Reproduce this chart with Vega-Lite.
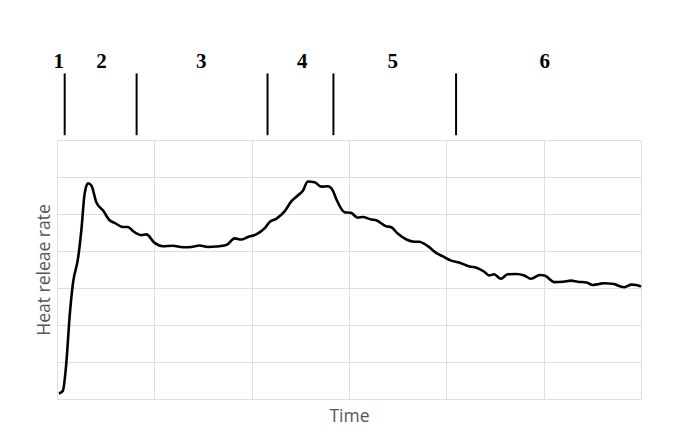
{
  "$schema": "https://vega.github.io/schema/vega-lite/v6.json",
  "autosize": {"type": "none"},
  "width": 584,
  "height": 259,
  "padding": {"left": 57, "top": 140, "right": 33, "bottom": 35},
  "background": "white",
  "config": {
    "view": {"stroke": null},
    "axis": {"gridColor": "#dedede", "gridWidth": 1, "domain": false, "ticks": false, "labels": false,
             "titleFont": "Open Sans", "titleFontWeight": "normal", "titleColor": "#555555"}
  },
  "datasets": {
    "curve": [
      {"t": 0.02, "hrr": 0.15}, {"t": 0.06, "hrr": 0.22}, {"t": 0.096, "hrr": 0.98}, {"t": 0.13, "hrr": 2.24},
      {"t": 0.164, "hrr": 3.13}, {"t": 0.216, "hrr": 3.8}, {"t": 0.25, "hrr": 4.56}, {"t": 0.284, "hrr": 5.55},
      {"t": 0.318, "hrr": 5.83}, {"t": 0.353, "hrr": 5.77}, {"t": 0.404, "hrr": 5.32}, {"t": 0.472, "hrr": 5.1},
      {"t": 0.541, "hrr": 4.83}, {"t": 0.592, "hrr": 4.76}, {"t": 0.678, "hrr": 4.65}, {"t": 0.729, "hrr": 4.65},
      {"t": 0.78, "hrr": 4.54}, {"t": 0.866, "hrr": 4.43}, {"t": 0.918, "hrr": 4.45}, {"t": 1.003, "hrr": 4.22},
      {"t": 1.088, "hrr": 4.13}, {"t": 1.19, "hrr": 4.14}, {"t": 1.294, "hrr": 4.1}, {"t": 1.38, "hrr": 4.11},
      {"t": 1.465, "hrr": 4.15}, {"t": 1.55, "hrr": 4.11}, {"t": 1.637, "hrr": 4.12}, {"t": 1.74, "hrr": 4.16},
      {"t": 1.824, "hrr": 4.34}, {"t": 1.893, "hrr": 4.31}, {"t": 1.961, "hrr": 4.38}, {"t": 2.047, "hrr": 4.45},
      {"t": 2.132, "hrr": 4.61}, {"t": 2.184, "hrr": 4.78}, {"t": 2.252, "hrr": 4.87}, {"t": 2.338, "hrr": 5.07},
      {"t": 2.407, "hrr": 5.34}, {"t": 2.474, "hrr": 5.5}, {"t": 2.526, "hrr": 5.63}, {"t": 2.577, "hrr": 5.88},
      {"t": 2.646, "hrr": 5.86}, {"t": 2.715, "hrr": 5.74}, {"t": 2.783, "hrr": 5.75}, {"t": 2.834, "hrr": 5.63},
      {"t": 2.868, "hrr": 5.41}, {"t": 2.954, "hrr": 5.05}, {"t": 3.02, "hrr": 5.03}, {"t": 3.09, "hrr": 4.9},
      {"t": 3.14, "hrr": 4.92}, {"t": 3.23, "hrr": 4.85}, {"t": 3.28, "hrr": 4.83}, {"t": 3.38, "hrr": 4.67},
      {"t": 3.43, "hrr": 4.65}, {"t": 3.5, "hrr": 4.47}, {"t": 3.59, "hrr": 4.31}, {"t": 3.67, "hrr": 4.25},
      {"t": 3.72, "hrr": 4.25}, {"t": 3.81, "hrr": 4.13}, {"t": 3.895, "hrr": 3.95}, {"t": 3.96, "hrr": 3.86},
      {"t": 4.05, "hrr": 3.74}, {"t": 4.13, "hrr": 3.69}, {"t": 4.24, "hrr": 3.58}, {"t": 4.31, "hrr": 3.55},
      {"t": 4.39, "hrr": 3.44}, {"t": 4.44, "hrr": 3.34}, {"t": 4.49, "hrr": 3.37}, {"t": 4.56, "hrr": 3.25},
      {"t": 4.63, "hrr": 3.37}, {"t": 4.72, "hrr": 3.38}, {"t": 4.8, "hrr": 3.34}, {"t": 4.87, "hrr": 3.25},
      {"t": 4.96, "hrr": 3.35}, {"t": 5.01, "hrr": 3.34}, {"t": 5.06, "hrr": 3.24}, {"t": 5.11, "hrr": 3.16},
      {"t": 5.2, "hrr": 3.17}, {"t": 5.28, "hrr": 3.2}, {"t": 5.35, "hrr": 3.17}, {"t": 5.44, "hrr": 3.15},
      {"t": 5.5, "hrr": 3.08}, {"t": 5.57, "hrr": 3.11}, {"t": 5.62, "hrr": 3.13}, {"t": 5.72, "hrr": 3.11},
      {"t": 5.77, "hrr": 3.06}, {"t": 5.83, "hrr": 3.02}, {"t": 5.9, "hrr": 3.09}, {"t": 5.95, "hrr": 3.08},
      {"t": 6.0, "hrr": 3.04}
    ],
    "stages": [
      {"t": 0.079, "low": 7.13, "high": 8.8},
      {"t": 0.818, "low": 7.13, "high": 8.8},
      {"t": 2.163, "low": 7.13, "high": 8.8},
      {"t": 2.84, "low": 7.13, "high": 8.8},
      {"t": 4.1, "low": 7.13, "high": 8.8}
    ],
    "labels": [
      {"t": 0.017, "level": 9.1, "stage": "1"},
      {"t": 0.456, "level": 9.1, "stage": "2"},
      {"t": 1.483, "level": 9.1, "stage": "3"},
      {"t": 2.52, "level": 9.1, "stage": "4"},
      {"t": 3.45, "level": 9.1, "stage": "5"},
      {"t": 5.01, "level": 9.1, "stage": "6"}
    ]
  },
  "layer": [
    {
      "data": {"name": "curve"},
      "mark": {"type": "line", "color": "black", "strokeWidth": 2.6, "interpolate": "monotone"},
      "encoding": {
        "x": {"field": "t", "type": "quantitative", "scale": {"domain": [0, 6], "nice": false},
              "axis": {"title": "Time", "tickCount": 6, "titleFontSize": 17.5, "titlePadding": 8}},
        "y": {"field": "hrr", "type": "quantitative", "scale": {"domain": [0, 7], "nice": false},
              "axis": {"title": "Heat releae rate", "tickCount": 7, "titleFontSize": 17.5, "titlePadding": 4}}
      }
    },
    {
      "data": {"name": "stages"},
      "mark": {"type": "rule", "color": "black", "strokeWidth": 2},
      "encoding": {
        "x": {"field": "t", "type": "quantitative"},
        "y": {"field": "low", "type": "quantitative"},
        "y2": {"field": "high"}
      }
    },
    {
      "data": {"name": "labels"},
      "mark": {"type": "text", "font": "Liberation Serif", "fontWeight": "bold", "fontSize": 21, "color": "black", "baseline": "middle", "align": "center"},
      "encoding": {
        "x": {"field": "t", "type": "quantitative"},
        "y": {"field": "level", "type": "quantitative"},
        "text": {"field": "stage"}
      }
    }
  ]
}
